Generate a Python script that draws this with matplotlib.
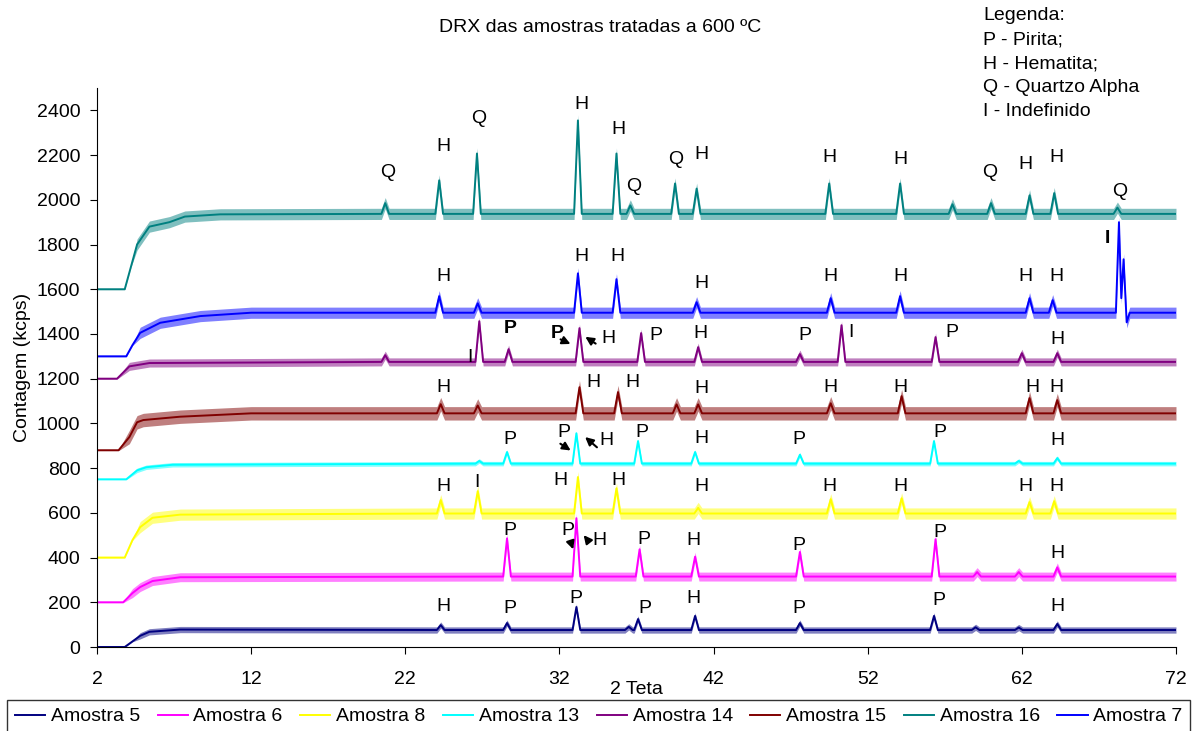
import numpy as np
import matplotlib
matplotlib.use("Agg")
import matplotlib.pyplot as plt

plt.rcParams["font.family"] = ["Liberation Sans", "DejaVu Sans"]
plt.rcParams["font.size"] = 14

# ---- dados (2 Teta x contagem em kcps) ----
# linha de base (subida inicial + patamar) e picos de cada amostra
A5_BASE_X = [2, 3.8, 4.3, 4.8, 5.4, 7.4, 72]
A5_BASE_Y = [0, 0, 25, 50, 68, 78, 76]
A5_PICO_X = [24.3, 28.6, 33.1, 36.5, 37.1, 40.8, 47.6, 56.3, 59.0, 61.8, 64.3]
A5_PICO_Y = [98, 107, 179, 90, 125, 139, 107, 139, 88, 87, 103]

A6_BASE_X = [2, 3.7, 4.3, 4.8, 5.6, 7.4, 72]
A6_BASE_Y = [200, 200, 241, 268, 295, 312, 315]
A6_PICO_X = [28.6, 33.1, 37.2, 40.8, 47.6, 56.4, 59.1, 61.8, 64.3]
A6_PICO_Y = [486, 576, 437, 404, 425, 482, 335, 335, 356]

A8_BASE_X = [2, 3.8, 4.3, 4.8, 5.6, 7.4, 72]
A8_BASE_Y = [400, 400, 478, 536, 578, 592, 597]
A8_PICO_X = [24.3, 26.7, 33.2, 35.7, 41.0, 49.6, 54.2, 62.5, 64.1]
A8_PICO_Y = [657, 697, 760, 710, 622, 661, 665, 648, 652]

A13_BASE_X = [2, 3.9, 4.6, 5.2, 6.9, 72]
A13_BASE_Y = [750, 750, 790, 804, 815, 820]
A13_PICO_X = [26.8, 28.6, 33.1, 37.1, 40.8, 47.6, 56.3, 61.8, 64.3]
A13_PICO_Y = [832, 872, 956, 921, 872, 860, 921, 832, 845]

A14_BASE_X = [2, 3.3, 4.1, 5.4, 72]
A14_BASE_Y = [1200, 1200, 1255, 1270, 1275]
A14_PICO_X = [20.7, 26.8, 28.7, 33.3, 37.3, 41.0, 47.6, 50.3, 56.4, 62.0, 64.3]
A14_PICO_Y = [1305, 1457, 1332, 1426, 1404, 1341, 1310, 1439, 1386, 1314, 1314]

A15_BASE_X = [2, 3.4, 4.1, 4.6, 5.0, 7.4, 12, 72]
A15_BASE_Y = [880, 880, 939, 1005, 1015, 1030, 1045, 1045]
A15_PICO_X = [24.3, 26.7, 33.3, 35.8, 39.6, 41.0, 49.6, 54.2, 62.5, 64.3]
A15_PICO_Y = [1086, 1080, 1162, 1140, 1085, 1085, 1090, 1122, 1113, 1104]

A16_BASE_X = [2, 3.8, 4.2, 4.6, 5.4, 6.7, 7.7, 10, 72]
A16_BASE_Y = [1600, 1600, 1700, 1800, 1880, 1900, 1925, 1935, 1937]
A16_PICO_X = [20.7, 24.2, 26.65, 33.2, 35.7, 36.6, 39.5, 40.9, 49.5, 54.1, 57.5, 60.0, 62.5, 64.1, 68.2]
A16_PICO_Y = [1985, 2087, 2207, 2355, 2207, 1975, 2073, 2050, 2073, 2073, 1980, 1985, 2020, 2030, 1965]

A7_BASE_X = [2, 3.9, 4.3, 4.8, 6.1, 8.7, 12, 68.1, 68.3, 68.45, 68.6, 68.8, 69.0, 72]
A7_BASE_Y = [1300, 1300, 1350, 1405, 1450, 1480, 1495, 1495, 1900, 1560, 1734, 1452, 1495, 1495]
A7_PICO_X = [24.2, 26.7, 33.2, 35.7, 40.9, 49.6, 54.1, 62.5, 64.0]
A7_PICO_Y = [1569, 1537, 1671, 1645, 1542, 1560, 1569, 1560, 1551]

# amplitude do ruído de cada difratograma (kcps)
RUIDO = [14, 20, 25, 10, 18, 30, 25, 25]

NOMES = ["Amostra 5", "Amostra 6", "Amostra 8", "Amostra 13",
         "Amostra 14", "Amostra 15", "Amostra 16", "Amostra 7"]
CORES = ["#000080", "#FF00FF", "#FFFF00", "#00FFFF",
         "#800080", "#800000", "#008080", "#0000FF"]

# identificação das fases (letra, 2 Teta, kcps[, negrito])
A5_ROT = [("H", 24.45, 183), ("P", 28.79, 170), ("P", 33.07, 215), ("P", 37.55, 170),
          ("H", 40.67, 219), ("P", 47.54, 170), ("P", 56.63, 210), ("H", 64.28, 183)]
A6_ROT = [("P", 28.79, 523), ("P", 32.56, 523), ("H", 34.57, 478), ("P", 37.49, 483),
          ("H", 40.67, 478), ("P", 47.54, 456), ("P", 56.69, 514), ("H", 64.28, 420)]
A8_ROT = [("H", 24.45, 720), ("I", 26.65, 737), ("H", 32.04, 746), ("H", 35.80, 746),
          ("H", 41.19, 720), ("H", 49.49, 720), ("H", 54.10, 720), ("H", 62.20, 720),
          ("H", 64.22, 720)]
A13_ROT = [("P", 28.79, 930), ("P", 32.30, 961), ("H", 35.02, 925), ("P", 37.36, 961),
           ("H", 41.19, 934), ("P", 47.54, 930), ("P", 56.69, 961), ("H", 64.28, 925)]
A14_ROT = [("I", 26.20, 1296), ("P", 28.79, 1426, True), ("P", 31.84, 1403, True),
           ("H", 35.15, 1381), ("P", 38.27, 1394), ("H", 41.12, 1403), ("P", 47.93, 1394),
           ("I", 50.92, 1408), ("P", 57.47, 1408), ("H", 64.28, 1377)]
A15_ROT = [("H", 24.45, 1162), ("H", 34.18, 1184), ("H", 36.71, 1184), ("H", 41.19, 1158),
           ("H", 49.55, 1162), ("H", 54.10, 1162), ("H", 62.66, 1162), ("H", 64.22, 1162)]
A16_ROT = [("Q", 20.88, 2123), ("H", 24.45, 2239), ("Q", 26.78, 2364), ("H", 33.40, 2427),
           ("H", 35.80, 2315), ("Q", 36.84, 2060), ("Q", 39.56, 2181), ("H", 41.19, 2203),
           ("H", 49.49, 2190), ("H", 54.10, 2181), ("Q", 59.93, 2123), ("H", 62.20, 2159),
           ("H", 64.22, 2190), ("Q", 68.37, 2038)]
A7_ROT = [("H", 24.45, 1658), ("H", 33.40, 1747), ("H", 35.74, 1747), ("H", 41.19, 1627),
          ("H", 49.55, 1658), ("H", 54.10, 1658), ("H", 62.20, 1658), ("H", 64.22, 1658),
          ("I", 67.53, 1828, True)]

# setas (origem -> ponta) apontando os picos sobrepostos P/H
SETAS = [((31.91, 1381), (32.88, 1350)), ((34.50, 1350), (33.53, 1394)),
         ((31.91, 916), (32.88, 872)), ((34.57, 885), (33.53, 947)),
         ((32.69, 478), (32.95, 425)), ((33.98, 465), (33.46, 510))]

LEGENDA = ["Legenda:", "P - Pirita;", "H - Hematita;", "Q - Quartzo Alpha", "I - Indefinido"]


def serie(bx, by, px, py, meia=0.25):
    """junta linha de base e picos numa curva só, ordenada em 2 Teta"""
    plat = by[-1]
    pts = list(zip(bx, by))
    for p, h in zip(px, py):
        pts += [(p - meia, plat), (p, h), (p + meia, plat)]
    pts.sort()
    x, y = zip(*pts)
    return np.array(x), np.array(y)


series = [(A5_BASE_X, A5_BASE_Y, A5_PICO_X, A5_PICO_Y),
          (A6_BASE_X, A6_BASE_Y, A6_PICO_X, A6_PICO_Y),
          (A8_BASE_X, A8_BASE_Y, A8_PICO_X, A8_PICO_Y),
          (A13_BASE_X, A13_BASE_Y, A13_PICO_X, A13_PICO_Y),
          (A14_BASE_X, A14_BASE_Y, A14_PICO_X, A14_PICO_Y),
          (A15_BASE_X, A15_BASE_Y, A15_PICO_X, A15_PICO_Y),
          (A16_BASE_X, A16_BASE_Y, A16_PICO_X, A16_PICO_Y),
          (A7_BASE_X, A7_BASE_Y, A7_PICO_X, A7_PICO_Y)]
rotulos = [A5_ROT, A6_ROT, A8_ROT, A13_ROT, A14_ROT, A15_ROT, A16_ROT, A7_ROT]

fig = plt.figure(figsize=(12.04, 7.31), dpi=100)
ax = fig.add_axes([97 / 1204, 1 - 647 / 731, 1079 / 1204, 559 / 731])

for (bx, by, px, py), nome, cor, rd in zip(series, NOMES, CORES, RUIDO):
    x, y = serie(bx, by, px, py)
    # faixa do ruído (apenas visual, sem valores aleatórios)
    ruido = np.where(x > bx[1] + 0.5, rd, 2)
    ax.fill_between(x, y - ruido, y + ruido, color=cor, alpha=0.5, lw=0)
    ax.plot(x, y, color=cor, lw=1.4, label=nome)

for rot in rotulos:
    for letra, xr, yr, *neg in rot:
        ax.text(xr, yr, letra, ha="center", va="center", fontsize=14,
                weight="bold" if neg else "normal")

for orig, ponta in SETAS:
    ax.annotate("", xy=ponta, xytext=orig,
                arrowprops=dict(arrowstyle="-|>", color="black", lw=1.5, mutation_scale=12))

ax.set_xlim(2, 72)
ax.set_ylim(0, 2500)
ax.set_xticks(np.arange(2, 73, 10))
ax.set_yticks(np.arange(0, 2401, 200))
ax.spines["top"].set_visible(False)
ax.spines["right"].set_visible(False)
ax.tick_params(axis="x", direction="out", length=5, pad=12)
ax.tick_params(axis="y", direction="out", length=5, pad=7)
ax.set_xlabel("2 Teta", labelpad=-5)
ax.set_ylabel("Contagem (kcps)", labelpad=4)

fig.text(600 / 1204, 1 - 27 / 731, "DRX das amostras tratadas a 600 ºC",
         ha="center", va="center", fontsize=14)
for i, ln in enumerate(LEGENDA):
    fig.text(983 / 1204, 1 - (16 + 24 * i) / 731, ln, ha="left", va="center", fontsize=14)

leg = fig.legend(loc="upper left", bbox_to_anchor=(7 / 1204, 1 - 700 / 731), ncol=8,
                 frameon=True, fancybox=False, edgecolor="black", borderaxespad=0,
                 handlelength=1.55, handletextpad=0.3, columnspacing=0.9, fontsize=14)
leg.get_frame().set_linewidth(1.0)

fig.savefig("out.png", dpi=100)
